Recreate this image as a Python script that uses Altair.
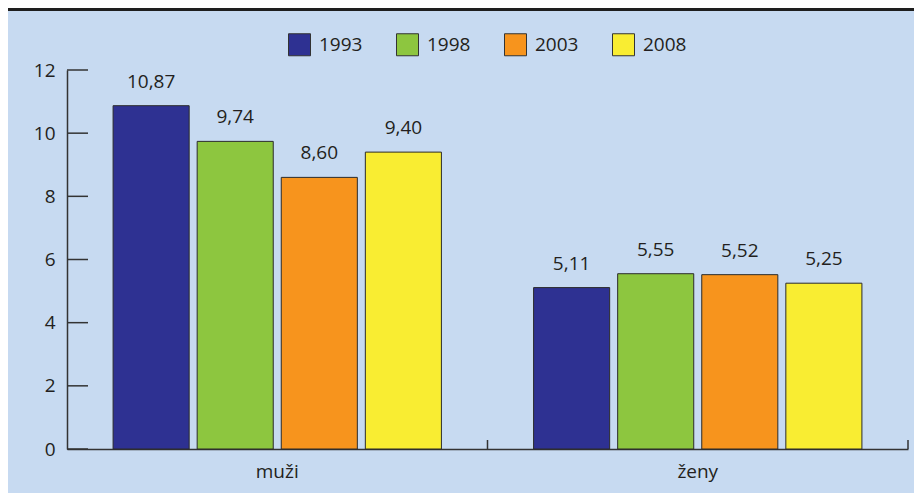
import altair as alt
import pandas as pd

groups = ["muži", "ženy"]
years = ["1993", "1998", "2003", "2008"]
muzi = [10.87, 9.74, 8.60, 9.40]
zeny = [5.11, 5.55, 5.52, 5.25]
y_ticks = [0, 2, 4, 6, 8, 10, 12]
colors = ["#2e3192", "#8dc63f", "#f7941d", "#f9ed32"]

rows = []
for g, vals in zip(groups, [muzi, zeny]):
    for yr, v in zip(years, vals):
        rows.append({"skupina": g, "rok": yr, "hodnota": v})
df = pd.DataFrame(rows)

FONT = "Open Sans"
FS = 19
TXT = "#231f20"
AX = "#333333"
BG = "#c7daf1"

x_scale = alt.Scale(domain=groups, paddingInner=0, paddingOuter=0)
xo_scale = alt.Scale(domain=years, paddingInner=0.0952, paddingOuter=0.548)
y_scale = alt.Scale(domain=[0, 12], nice=False)

x_enc = alt.X(
    "skupina:N", scale=x_scale, sort=groups,
    axis=alt.Axis(title=None, labelAngle=0, ticks=False, labelFont=FONT,
                  labelFontSize=FS, labelColor=TXT, labelPadding=13,
                  domainColor=AX, domainWidth=1.5),
)
xo_enc = alt.XOffset("rok:N", scale=xo_scale, sort=years)
y_enc = alt.Y(
    "hodnota:Q", scale=y_scale,
    axis=alt.Axis(title=None, values=y_ticks, ticks=False, grid=False,
                  labelFont=FONT, labelFontSize=FS, labelColor=TXT,
                  labelPadding=12, domainColor=AX, domainWidth=1.5),
)

bars = alt.Chart(df).mark_bar(stroke="#2b2b2b", strokeWidth=1).encode(
    x=x_enc,
    xOffset=xo_enc,
    y=y_enc,
    color=alt.Color(
        "rok:N", scale=alt.Scale(domain=years, range=colors),
        legend=alt.Legend(
            title=None, orient="none", legendX=221, legendY=-37,
            direction="horizontal", symbolType="square", symbolSize=484,
            symbolStrokeColor="#333333", symbolStrokeWidth=1,
            labelFont=FONT, labelFontSize=FS, labelColor=TXT,
            labelOffset=8, columnPadding=31,
        ),
    ),
)

labels = alt.Chart(df).transform_calculate(
    lab="replace(format(datum.hodnota, '.2f'), '.', ',')"
).mark_text(dy=-18, baseline="alphabetic", font=FONT, fontSize=FS, color=TXT).encode(
    x=alt.X("skupina:N", sort=groups),
    xOffset=alt.XOffset("rok:N", sort=years),
    y=alt.Y("hodnota:Q"),
    text="lab:N",
)

yticks = alt.Chart(pd.DataFrame({"v": y_ticks})).mark_rule(
    color=AX, strokeWidth=1.5
).encode(y=alt.Y("v:Q"), x=alt.value(0), x2=alt.value(21))

xticks = alt.Chart(pd.DataFrame({"skupina": groups})).mark_rule(
    color=AX, strokeWidth=1.5
).encode(
    x=alt.X("skupina:N", sort=groups, bandPosition=1),
    y=alt.value(370), y2=alt.value(379),
)

topline = alt.Chart(pd.DataFrame({"a": [0]})).mark_rule(
    color="#1e1e1e", strokeWidth=3
).encode(x=alt.value(-59), x2=alt.value(847), y=alt.value(-60.5))

chart = alt.layer(bars, labels, yticks, xticks, topline).properties(
    width=841,
    height=379,
    autosize=alt.AutoSizeParams(type="none"),
    padding={"left": 59, "top": 62, "right": 6, "bottom": 44},
    background=BG,
).configure_view(stroke=None)

chart.save("out.html", embed_options={"renderer": "svg", "actions": False})
